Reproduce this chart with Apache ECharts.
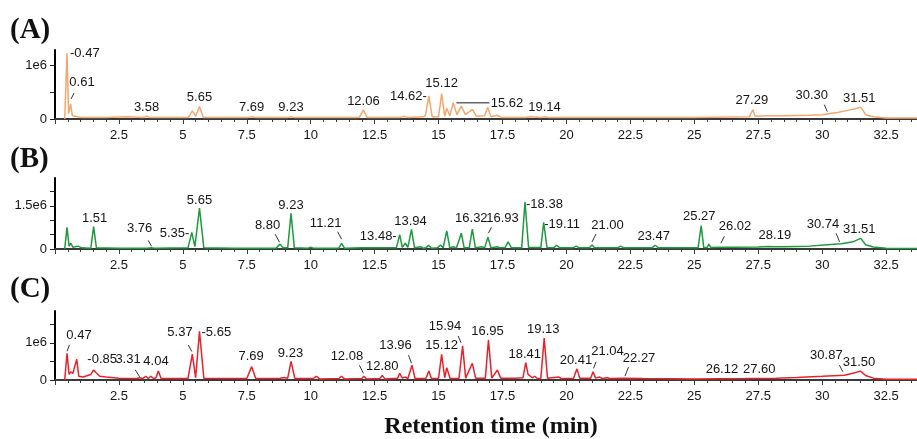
<!DOCTYPE html>
<html>
<head>
<meta charset="utf-8">
<script src="https://cdn.jsdelivr.net/npm/echarts@6/dist/echarts.min.js"></script>
<style>html,body{margin:0;padding:0;background:#fff;}#c{width:917px;height:439px;}</style>
</head>
<body>
<div id="c"></div>
<script>
// Intensities in units of 1e6 counts, retention time in minutes
const traceA = [[0.38,0],[0.47,1.22],[0.53,0.1],[0.61,0.28],[0.68,0.06],[0.8,0.05],[1.0,0.03],[2.0,0.03],[2.8,0.04],[3.45,0.03],[3.58,0.05],[3.7,0.03],[4.5,0.03],[5.22,0.03],[5.37,0.15],[5.5,0.05],[5.65,0.23],[5.8,0.03],[7.0,0.03],[7.55,0.03],[7.69,0.04],[7.85,0.03],[8.8,0.03],[9.1,0.03],[9.23,0.04],[9.35,0.03],[11.9,0.03],[12.06,0.17],[12.2,0.03],[13.5,0.03],[13.65,0.05],[13.8,0.03],[14.4,0.04],[14.48,0.06],[14.62,0.43],[14.75,0.04],[15.0,0.04],[15.12,0.47],[15.24,0.05],[15.32,0.2],[15.44,0.06],[15.57,0.3],[15.72,0.08],[15.89,0.24],[16.05,0.08],[16.32,0.18],[16.48,0.05],[16.8,0.06],[16.92,0.22],[17.05,0.04],[17.3,0.07],[17.45,0.03],[18.4,0.03],[18.6,0.04],[19.0,0.03],[19.14,0.04],[19.3,0.03],[22,0.03],[25,0.03],[27.15,0.04],[27.29,0.17],[27.38,0.05],[27.8,0.06],[28.5,0.06],[29.5,0.07],[30.0,0.08],[30.3,0.1],[30.6,0.12],[31.0,0.16],[31.3,0.19],[31.51,0.22],[31.7,0.08],[32.0,0.04],[32.5,0.02],[33.0,0.02],[35,0.02]];
const traceB = [[0.38,0],[0.47,0.75],[0.55,0.1],[0.62,0.2],[0.7,0.06],[0.9,0.1],[1.05,0.04],[1.4,0.03],[1.51,0.78],[1.62,0.04],[2.5,0.03],[3.6,0.03],[3.76,0.04],[3.9,0.03],[5.2,0.04],[5.35,0.58],[5.47,0.08],[5.65,1.42],[5.82,0.04],[7,0.03],[8.65,0.03],[8.8,0.17],[8.92,0.04],[9.1,0.04],[9.23,1.24],[9.36,0.04],[9.9,0.03],[10.0,0.06],[10.1,0.03],[11.1,0.03],[11.21,0.2],[11.32,0.03],[12.0,0.04],[13.35,0.04],[13.48,0.5],[13.58,0.06],[13.7,0.2],[13.8,0.06],[13.94,0.68],[14.06,0.04],[14.3,0.08],[14.4,0.03],[14.5,0.04],[14.6,0.13],[14.72,0.03],[14.95,0.04],[15.08,0.14],[15.18,0.04],[15.32,0.63],[15.44,0.04],[15.57,0.08],[15.7,0.04],[15.89,0.55],[16.0,0.04],[16.2,0.04],[16.32,0.69],[16.44,0.04],[16.7,0.08],[16.8,0.04],[16.93,0.41],[17.05,0.04],[17.3,0.08],[17.4,0.04],[17.6,0.05],[17.72,0.25],[17.85,0.04],[18.25,0.04],[18.38,1.63],[18.52,0.05],[19.0,0.05],[19.11,0.93],[19.24,0.05],[19.5,0.04],[19.62,0.13],[19.74,0.04],[20.25,0.04],[20.38,0.1],[20.5,0.04],[20.9,0.04],[21.0,0.14],[21.1,0.04],[22.0,0.04],[22.12,0.1],[22.25,0.04],[23.35,0.04],[23.47,0.13],[23.6,0.04],[25.15,0.04],[25.27,0.81],[25.37,0.05],[25.5,0.05],[25.57,0.17],[25.65,0.05],[26.02,0.06],[26.6,0.06],[27.5,0.07],[27.9,0.09],[28.19,0.08],[28.5,0.08],[29.5,0.1],[30.2,0.15],[30.74,0.18],[31.0,0.22],[31.2,0.25],[31.51,0.37],[31.7,0.15],[32.0,0.07],[32.5,0.03],[33,0.02],[35,0.02]];
const traceC = [[0.38,0],[0.47,0.72],[0.55,0.15],[0.62,0.22],[0.7,0.18],[0.75,0.2],[0.85,0.56],[0.93,0.1],[1.1,0.08],[1.4,0.15],[1.51,0.27],[1.6,0.2],[1.75,0.1],[2.0,0.08],[2.5,0.05],[3.2,0.04],[3.31,0.06],[3.42,0.04],[3.55,0.1],[3.65,0.04],[3.75,0.1],[3.85,0.04],[3.95,0.06],[4.04,0.24],[4.15,0.04],[5.2,0.04],[5.37,0.7],[5.5,0.06],[5.65,1.31],[5.82,0.05],[7.5,0.04],[7.69,0.36],[7.85,0.04],[8.8,0.05],[8.95,0.07],[9.1,0.05],[9.23,0.5],[9.38,0.04],[10.1,0.04],[10.22,0.1],[10.35,0.03],[11.1,0.04],[11.2,0.1],[11.32,0.03],[12.0,0.04],[12.08,0.1],[12.18,0.03],[12.7,0.04],[12.8,0.12],[12.9,0.03],[13.4,0.05],[13.48,0.18],[13.58,0.05],[13.7,0.08],[13.8,0.04],[13.96,0.4],[14.08,0.04],[14.5,0.04],[14.62,0.24],[14.72,0.04],[15.0,0.05],[15.12,0.69],[15.24,0.06],[15.32,0.33],[15.45,0.04],[15.8,0.05],[15.94,0.92],[16.06,0.05],[16.32,0.45],[16.45,0.05],[16.83,0.05],[16.95,1.08],[17.08,0.05],[17.3,0.27],[17.43,0.05],[18.0,0.05],[18.3,0.06],[18.41,0.47],[18.5,0.15],[18.56,0.2],[18.66,0.06],[18.76,0.1],[18.86,0.04],[19.0,0.05],[19.13,1.13],[19.26,0.05],[19.7,0.08],[19.8,0.04],[20.28,0.05],[20.41,0.3],[20.52,0.05],[20.95,0.05],[21.04,0.22],[21.14,0.05],[21.3,0.08],[21.4,0.04],[21.6,0.06],[21.7,0.04],[22.27,0.05],[23,0.04],[25,0.03],[27,0.04],[28.2,0.05],[29,0.07],[30,0.1],[30.87,0.13],[31.2,0.18],[31.5,0.24],[31.7,0.12],[32,0.05],[32.5,0.02],[35,0.02]];

// Peak annotations: [time, intensity (1e6), text]
const labelsA = [[0.47,1.22,'-0.47'],[0.61,0.28,'0.61'],[3.58,0.05,'3.58'],[5.65,0.23,'5.65'],[7.69,0.04,'7.69'],[9.23,0.04,'9.23'],[12.06,0.17,'12.06'],[14.62,0.43,'14.62-'],[15.12,0.47,'15.12'],[15.62,0.3,'15.62'],[19.14,0.04,'19.14'],[27.29,0.17,'27.29'],[30.30,0.1,'30.30'],[31.51,0.22,'31.51']];
const labelsB = [[1.51,0.78,'1.51'],[3.76,0.04,'3.76'],[5.35,0.58,'5.35-'],[5.65,1.42,'5.65'],[8.80,0.17,'8.80'],[9.23,1.24,'9.23'],[11.21,0.2,'11.21'],[13.48,0.5,'13.48-'],[13.94,0.68,'13.94'],[16.32,0.69,'16.32'],[16.93,0.41,'16.93'],[18.38,1.63,'-18.38'],[19.11,0.93,'-19.11'],[21.00,0.14,'21.00'],[23.47,0.13,'23.47'],[25.27,0.81,'25.27'],[26.02,0.06,'26.02'],[28.19,0.08,'28.19'],[30.74,0.18,'30.74'],[31.51,0.37,'31.51']];
const labelsC = [[0.47,0.72,'0.47'],[0.85,0.56,'-0.85'],[3.31,0.06,'3.31'],[4.04,0.24,'4.04'],[5.37,0.7,'5.37'],[5.65,1.31,'-5.65'],[7.69,0.36,'7.69'],[9.23,0.5,'9.23'],[12.08,0.1,'12.08'],[12.80,0.12,'12.80'],[13.96,0.4,'13.96'],[15.12,0.69,'15.12'],[15.94,0.92,'15.94'],[16.95,1.08,'16.95'],[18.41,0.47,'18.41'],[19.13,1.13,'19.13'],[20.41,0.3,'20.41'],[21.04,0.22,'21.04'],[22.27,0.05,'22.27'],[26.12,0.03,'26.12'],[27.60,0.05,'27.60'],[30.87,0.13,'30.87'],[31.50,0.24,'31.50']];

// Axis ticks and labels
const xTickInterval = 2.5;
const yTicksA = [0, 0.5, 1], yLabelsA = [0, 1];
const yTicksB = [0, 0.5, 1, 1.5, 2], yLabelsB = [0, 1.5];
const yTicksC = [0, 0.5, 1, 1.5], yLabelsC = [0, 1];
const panelTitles = ['(A)', '(B)', '(C)'];
const xTitle = 'Retention time (min)';

// label placement in screen pixels relative to the anchored peak (styling only)
// t: text offset [dx, dy(center)], a: text alignment, l: leader segment [x1,y1,x2,y2]
const T = {t:[0,-9]};
const placeA = [
  {t:[3,0],a:'left'}, {t:[11.4,-21],l:[0.5,-5,3.5,-11]}, T, {t:[0,-9]}, T, T, {t:[0,-8.5]},
  {t:[-2,1],a:'right'}, {t:[0,-10.5]}, {t:[36.3,1],a:'left',l:[2,0,35,0],g:1}, T, {t:[-1,-9]},
  {t:[-18,-18.6],l:[-5.5,-9,-2.5,-2]}, {t:[-1.5,-8.5]}];
const placeB = [
  {t:[1,-8.6]}, {t:[-11.6,-19.4],l:[-3,-7.5,0.5,-1.5]}, {t:[-2.5,1.5],a:'right'}, {t:[0,-8]},
  {t:[-12.5,-18.6],l:[-5,-10,-0.5,-2]}, {t:[0,-8]}, {t:[-16,-19.6],l:[-4,-11.5,0,-4]},
  {t:[-3,1.4],a:'right'}, {t:[-1,-8.5]}, {t:[-1,-11]}, {t:[14.6,-19],l:[0.5,-4,3.5,-10]},
  {t:[1,2],a:'left'}, {t:[0.5,2],a:'left'}, {t:[15.5,-20],l:[0,-3,4,-11]}, {t:[-1.5,-9.3]},
  {t:[-2,-9.7]}, {t:[14.7,-20.6],l:[0.5,-4,4,-11]}, {t:[-1,-11.4]}, {t:[-18,-19],l:[-5,-10.5,-1.5,-2]},
  {t:[-1.5,-9.4]}];
const placeC = [
  {t:[12,-18.3],l:[0,-2,2.5,-8.5]}, {t:[10.6,0],a:'left'}, {t:[-11.6,-18.3],l:[-4.5,-8,0,-1]},
  {t:[-2.3,-9.6]}, {t:[-12.3,-21.5],l:[-4,-9,-0.5,-2.5]}, {t:[2,1],a:'left'}, {t:[-0.5,-10]},
  {t:[-0.5,-8.2]}, {t:[-17,-19.8],l:[-4.5,-11,-0.5,-3]}, {t:[0,-9]}, {t:[-16.5,-20.2],l:[-3.5,-10,-0.5,-2]},
  {t:[0,-8.6]}, {t:[-17.6,-19.2],l:[-4.5,-10,-1.5,-3]}, {t:[-1,-8.2]}, {t:[-1,-8.6]}, {t:[-1,-9]},
  {t:[-1,-8.1]}, {t:[14.5,-20.8],l:[0.5,-3.5,3,-10]}, {t:[14.6,-19.3],l:[0.5,-2,4,-11]},
  {t:[-1,-9]}, {t:[-1.5,-9]}, {t:[-18,-20.2],l:[-5,-10,-1.5,-3.5]}, {t:[-1.5,-9]}];

const FONT = 'Liberation Sans';
const TXT = '#151515';
const grids = [
  {left:55,right:-33,top:50,height:69,outerBoundsMode:'none',containLabel:false},
  {left:55,right:-33,top:178,height:71,outerBoundsMode:'none',containLabel:false},
  {left:55,right:-33,top:311,height:69,outerBoundsMode:'none',containLabel:false}];
const ymax = [1.28, 2.47, 1.86];
const yT = [yTicksA, yTicksB, yTicksC], yL = [yLabelsA, yLabelsB, yLabelsC];
const traces = [traceA, traceB, traceC];
const labels = [labelsA, labelsB, labelsC];
const places = [placeA, placeB, placeC];
const colors = ['#f5a66c', '#1e9a3e', '#e8222b'];

const xAxes = grids.map((g,i)=>({
  gridIndex:i, type:'value', min:0, max:35, interval:xTickInterval,
  axisLine:{show:true, onZero:false, lineStyle:{color:'#3a3a3a', width:2}},
  axisTick:{show:true, length:5, lineStyle:{color:'#3a3a3a', width:1}},
  minorTick:{show:true, splitNumber:5, length:3, lineStyle:{color:'#3a3a3a', width:1}},
  axisLabel:{showMinLabel:false, showMaxLabel:false, margin:10, color:TXT, fontSize:13, fontFamily:FONT},
  splitLine:{show:false}, minorSplitLine:{show:false}
}));
const yAxes = grids.map((g,i)=>({
  gridIndex:i, type:'value', min:0, max:ymax[i],
  axisLine:{show:true, onZero:false, lineStyle:{color:'#000', width:2}},
  axisTick:{show:true, length:5, customValues:yT[i], lineStyle:{color:'#222', width:1}},
  axisLabel:{customValues:yL[i], margin:8, color:TXT, fontSize:13, fontFamily:FONT,
    formatter:v=> v===0 ? '0' : (v + 'e6')},
  splitLine:{show:false}
}));

const series = [];
traces.forEach((t,i)=>{
  series.push({type:'line', xAxisIndex:i, yAxisIndex:i, data:t, showSymbol:false, symbol:'none',
    lineStyle:{color:colors[i], width:1.5}, itemStyle:{color:colors[i]}, animation:false, silent:true, z:2});
});
labels.forEach((ls,i)=>{
  const pl = places[i];
  series.push({
    type:'custom', xAxisIndex:i, yAxisIndex:i, clip:false, silent:true, animation:false, z:5,
    data: ls.map(l=>[l[0], l[1]]),
    renderItem: function(params, api){
      const k = params.dataIndex;
      const p = api.coord([api.value(0), api.value(1)]);
      const o = pl[k] || T;
      const children = [{type:'text', x:p[0]+o.t[0], y:p[1]+o.t[1],
        style:{text:ls[k][2], textAlign:o.a||'center', textVerticalAlign:'middle',
               font:'13px "' + FONT + '"', fill:TXT}}];
      if (o.l) children.push({type:'line',
        shape:{x1:p[0]+o.l[0], y1:p[1]+o.l[1], x2:p[0]+o.l[2], y2:p[1]+o.l[3]},
        style:{stroke:o.g ? '#666' : '#333', lineWidth:o.g ? 1.5 : 1}});
      return {type:'group', children:children};
    }
  });
});

const chart = echarts.init(document.getElementById('c'), null, {renderer:'canvas'});
chart.setOption({
  backgroundColor:'#fff',
  animation:false,
  grid:grids,
  xAxis:xAxes,
  yAxis:yAxes,
  series:series,
  graphic:[
    {type:'text', left:10, top:16, style:{text:panelTitles[0], font:'bold 29px "Liberation Serif"', fill:'#111'}},
    {type:'text', left:10, top:145, style:{text:panelTitles[1], font:'bold 29px "Liberation Serif"', fill:'#111'}},
    {type:'text', left:10, top:275, style:{text:panelTitles[2], font:'bold 29px "Liberation Serif"', fill:'#111'}},
    {type:'text', x:491, y:427, style:{text:xTitle, font:'bold 24px "Liberation Serif"', fill:'#111', textAlign:'center', textVerticalAlign:'middle'}}
  ]
});
</script>
</body>
</html>
